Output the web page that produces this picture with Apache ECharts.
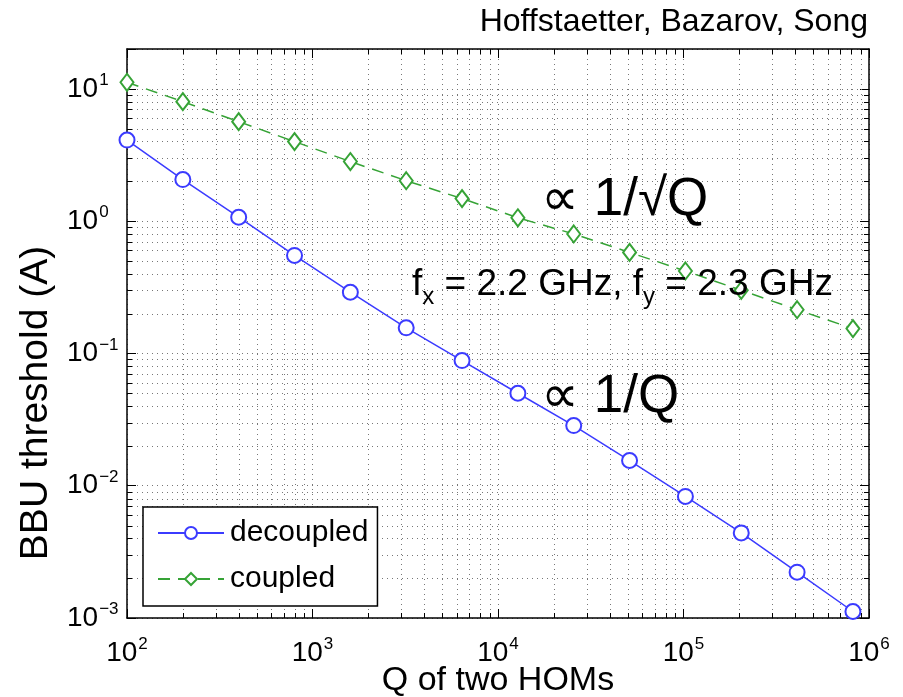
<!DOCTYPE html>
<html>
<head>
<meta charset="utf-8">
<script src="https://cdn.jsdelivr.net/npm/echarts@6/dist/echarts.min.js"></script>
<style>
html,body{margin:0;padding:0;background:#fff;}
#chart{width:903px;height:697px;}
</style>
</head>
<body>
<div id="chart"></div>
<script>
// ---- data ----
const qValues = [100, 200, 400, 800, 1600, 3200, 6400, 12800, 25600, 51200, 102400, 204800, 409600, 819200];
const decoupled = [4.1, 2.06, 1.07, 0.55, 0.29, 0.156, 0.0883, 0.050, 0.0285, 0.0155, 0.0083, 0.0044, 0.00222, 0.00112];
const coupled = [11.2, 8.0, 5.65, 3.99, 2.82, 2.02, 1.48, 1.06, 0.80, 0.58, 0.42, 0.30, 0.214, 0.154];
const xDecades = [100, 1000, 10000, 100000, 1000000];
const yDecades = [0.001, 0.01, 0.1, 1, 10];
const minorMultipliers = [2, 3, 4, 5, 6, 7, 8, 9];
const seriesNames = ['decoupled', 'coupled'];
const xLabel = 'Q of two HOMs';
const yLabel = 'BBU threshold (A)';
const credit = 'Hoffstaetter, Bazarov, Song';

const FONT = 'Liberation Sans, Arial, Helvetica, sans-serif';

// minor grid positions (2..9 in each decade)
const minorData = [];
xDecades.slice(0, -1).forEach(d => minorMultipliers.forEach(m => minorData.push([d * m, 1, 0])));
yDecades.forEach(d => minorMultipliers.forEach(m => {
  const v = d * m;
  if (v < 20) minorData.push([100, v, 1]);
}));

function expLabel(v) {
  const lg = Math.log10(v);
  const e = Math.round(lg);
  if (Math.abs(lg - e) > 1e-6) return '';
  const s = e < 0 ? '\u2212' + (-e) : String(e);
  return '{b|10}{s|' + s + '}';
}
const richTick = {
  b: {fontSize: 28, fontFamily: FONT, color: '#000', lineHeight: 34},
  s: {fontSize: 17, fontFamily: FONT, color: '#000', verticalAlign: 'top', lineHeight: 34, padding: [0, 0, 0, 1]}
};

const chart = echarts.init(document.getElementById('chart'));
const baseAxisX = {
  type: 'log', logBase: 10, min: 100, max: 1000000,
  axisLine: {show: true, onZero: false, lineStyle: {color: '#000', width: 1.5}},
  axisTick: {show: true, inside: true, length: 9, lineStyle: {color: '#000', width: 1}},
};
const baseAxisY = {
  type: 'log', logBase: 10, min: 0.001, max: 20,
  axisLine: {show: true, onZero: false, lineStyle: {color: '#000', width: 1.5}},
  axisTick: {show: true, inside: true, length: 9, lineStyle: {color: '#000', width: 1}},
};

const option = {
  animation: false,
  backgroundColor: '#fff',
  grid: {left: 127, right: 34, top: 49, bottom: 79, containLabel: false, outerBoundsMode: 'none'},
  xAxis: [
    Object.assign({}, baseAxisX, {
      position: 'bottom',
      name: xLabel, nameLocation: 'middle', nameGap: 46, nameMoveOverlap: false,
      nameTextStyle: {fontSize: 34, fontFamily: FONT, color: '#000'},
      axisLabel: {show: true, margin: 18, formatter: expLabel, rich: richTick},
      splitLine: {show: true, lineStyle: {color: '#777', width: 1, type: [1, 4]}}
    }),
    Object.assign({}, baseAxisX, {
      position: 'top', axisLabel: {show: false}, splitLine: {show: false}
    })
  ],
  yAxis: [
    Object.assign({}, baseAxisY, {
      position: 'left',
      axisLabel: {show: true, margin: 60, align: 'left', formatter: expLabel, rich: richTick},
      splitLine: {show: true, lineStyle: {color: '#777', width: 1, type: [1, 4]}}
    }),
    Object.assign({}, baseAxisY, {
      position: 'right', axisLabel: {show: false}, splitLine: {show: false}
    })
  ],
  legend: {
    data: seriesNames,
    orient: 'vertical',
    left: 143, top: 507,
    itemWidth: 66, itemHeight: 15, itemGap: 16,
    padding: [11, 9, 12, 14],
    backgroundColor: '#fff',
    borderColor: '#000', borderWidth: 1.5, borderRadius: 0,
    textStyle: {fontSize: 30, fontFamily: FONT, color: '#000', lineHeight: 30, padding: [0, 0, 0, 1]},
    z: 10
  },
  series: [
    {
      type: 'custom', name: 'minor', silent: true, z: 1,
      xAxisIndex: 0, yAxisIndex: 0,
      data: minorData,
      encode: {x: 0, y: 1},
      renderItem: function (params, api) {
        const cs = params.coordSys;
        const dir = api.value(2);
        const p = api.coord([api.value(0), api.value(1)]);
        const dash = {stroke: '#777', lineWidth: 1, lineDash: [1, 4]};
        const tk = {stroke: '#000', lineWidth: 1};
        if (dir === 0) {
          const x = Math.round(p[0]) + 0.5;
          return {type: 'group', children: [
            {type: 'line', shape: {x1: x, y1: cs.y, x2: x, y2: cs.y + cs.height}, style: dash},
            {type: 'line', shape: {x1: x, y1: cs.y + cs.height, x2: x, y2: cs.y + cs.height - 5}, style: tk},
            {type: 'line', shape: {x1: x, y1: cs.y, x2: x, y2: cs.y + 5}, style: tk}
          ]};
        } else {
          const y = Math.round(p[1]) + 0.5;
          return {type: 'group', children: [
            {type: 'line', shape: {x1: cs.x, y1: y, x2: cs.x + cs.width, y2: y}, style: dash},
            {type: 'line', shape: {x1: cs.x, y1: y, x2: cs.x + 5, y2: y}, style: tk},
            {type: 'line', shape: {x1: cs.x + cs.width, y1: y, x2: cs.x + cs.width - 5, y2: y}, style: tk}
          ]};
        }
      }
    },
    {
      type: 'line', name: seriesNames[0], z: 5,
      data: qValues.map((q, i) => [q, decoupled[i]]),
      symbol: 'emptyCircle', symbolSize: 15,
      lineStyle: {color: '#3b3bff', width: 1.5, type: 'solid'},
      itemStyle: {color: '#3b3bff', borderColor: '#3b3bff', borderWidth: 1.5},
      clip: false
    },
    {
      type: 'line', name: seriesNames[1], z: 5,
      data: qValues.map((q, i) => [q, coupled[i]]),
      symbol: 'emptyDiamond', symbolSize: [13, 17],
      lineStyle: {color: '#36a336', width: 1.5, type: [12, 8]},
      itemStyle: {color: '#36a336', borderColor: '#36a336', borderWidth: 1.5},
      clip: false
    }
  ],
  graphic: [
    {type: 'text', x: 868, y: 22, z: 20, style: {text: credit, font: '32px ' + FONT, fill: '#000', align: 'right', verticalAlign: 'middle'}},
    {type: 'text', x: 36, y: 403, rotation: Math.PI / 2, z: 20, style: {text: yLabel, font: '39px ' + FONT, fill: '#000', align: 'center', verticalAlign: 'middle'}},
    {type: 'text', x: 541, y: 200, z: 20, style: {text: '\u221D 1/\u221AQ', font: '53px ' + FONT, fill: '#000', align: 'left', verticalAlign: 'middle'}},
    {type: 'text', x: 541, y: 397, z: 20, style: {text: '\u221D 1/Q', font: '53px ' + FONT, fill: '#000', align: 'left', verticalAlign: 'middle'}},
    {type: 'text', x: 412, y: 285, z: 20, style: {
      text: '{b|f}{s|x}{b| = 2.2 GHz, f}{s|y}{b| = 2.3 GHz}',
      align: 'left', verticalAlign: 'middle',
      rich: {
        b: {fontSize: 37, fontFamily: FONT, color: '#000', lineHeight: 48},
        s: {fontSize: 24, fontFamily: FONT, color: '#000', verticalAlign: 'bottom', lineHeight: 48}
      }
    }}
  ]
};
chart.setOption(option);
</script>
</body>
</html>
